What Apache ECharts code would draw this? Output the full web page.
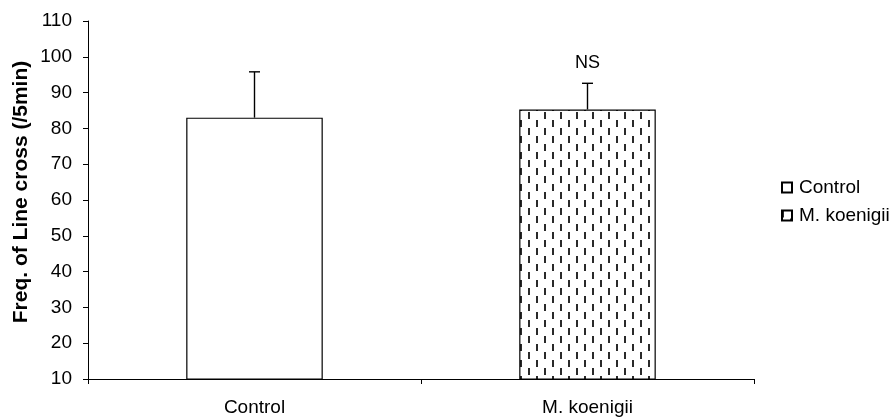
<!DOCTYPE html>
<html>
<head>
<meta charset="utf-8">
<script src="https://cdn.jsdelivr.net/npm/echarts@6/dist/echarts.min.js"></script>
<style>
html,body{margin:0;padding:0;background:#fff;}
#chart{width:894px;height:420px;}
</style>
</head>
<body>
<div id="chart"></div>
<script>
// Data
var categories = ['Control', 'M. koenigii'];
var seriesNames = ['Control', 'M. koenigii'];
var means = [83, 85.3];
var errors = [12.8, 7.3];
var sigLabels = ['', 'NS'];
var yTicks = {min: 10, max: 110, interval: 10};
var yTitle = 'Freq. of Line cross (/5min)';

// Pattern for M. koenigii bar (vertical dashed lines, staggered)
var pc = document.createElement('canvas');
pc.width = 16; pc.height = 16;
var pctx = pc.getContext('2d');
pctx.fillStyle = '#ffffff';
pctx.fillRect(0, 0, 16, 16);
pctx.fillStyle = '#2a2a2a';
pctx.fillRect(0, 0, 2, 7);
pctx.fillRect(8, 8, 2, 7);

var font = 'Liberation Sans, Arial, sans-serif';

function seriesData(i) {
  return means.map(function (v, j) { return j === i ? v : '-'; });
}

var errData = means.map(function (v, i) { return [i, v, errors[i]]; });

var chart = echarts.init(document.getElementById('chart'));
chart.setOption({
  animation: false,
  backgroundColor: '#ffffff',
  textStyle: {fontFamily: font},
  grid: {left: 88, right: 140, top: 21, bottom: 41, containLabel: false},
  legend: {
    data: seriesNames,
    orient: 'vertical',
    left: 776,
    top: 173,
    itemWidth: 10,
    itemHeight: 10,
    itemGap: 9,
    icon: 'rect',
    textStyle: {fontSize: 19, color: '#000', fontFamily: font, padding: [0, 0, 0, 2]}
  },
  graphic: [{
    type: 'text',
    x: 21, y: 192,
    rotation: Math.PI / 2,
    style: {
      text: yTitle,
      font: 'bold 21px ' + font,
      fill: '#000',
      align: 'center',
      verticalAlign: 'middle'
    }
  }],
  xAxis: {
    type: 'category',
    data: categories,
    boundaryGap: true,
    axisLine: {lineStyle: {color: '#000', width: 1}},
    axisTick: {show: true, length: 5, lineStyle: {color: '#000'}},
    axisLabel: {color: '#000', fontSize: 19, margin: 19, fontFamily: font},
    splitLine: {show: false}
  },
  yAxis: {
    type: 'value',
    min: yTicks.min,
    max: yTicks.max,
    interval: yTicks.interval,
    axisLine: {show: true, lineStyle: {color: '#000', width: 1}},
    axisTick: {show: true, length: 5, lineStyle: {color: '#000'}},
    axisLabel: {color: '#000', fontSize: 19, margin: 16, fontFamily: font},
    splitLine: {show: false}
  },
  series: [
    {
      name: seriesNames[0],
      type: 'bar',
      stack: 'a',
      barCategoryGap: '59%',
      data: seriesData(0),
      itemStyle: {color: '#ffffff', borderColor: '#000', borderWidth: 1.2}
    },
    {
      name: seriesNames[1],
      type: 'bar',
      stack: 'a',
      barCategoryGap: '59%',
      data: seriesData(1),
      itemStyle: {color: {image: pc, repeat: 'repeat'}, borderColor: '#000', borderWidth: 1.2}
    },
    {
      name: 'err',
      type: 'custom',
      data: errData,
      z: 10,
      renderItem: function (params, api) {
        var x = api.value(0), m = api.value(1), e = api.value(2);
        var lab = sigLabels[params.dataIndex];
        var p0 = api.coord([x, m]);
        var p1 = api.coord([x, m + e]);
        var children = [
          {type: 'line', shape: {x1: p0[0], y1: p0[1], x2: p1[0], y2: p1[1]}, style: {stroke: '#000', lineWidth: 1.4}},
          {type: 'line', shape: {x1: p1[0] - 5.5, y1: p1[1], x2: p1[0] + 5.5, y2: p1[1]}, style: {stroke: '#000', lineWidth: 1.4}}
        ];
        if (lab) {
          children.push({type: 'text', x: p1[0], y: p1[1] - 20, style: {text: lab, font: '18px ' + font, fill: '#000', align: 'center', verticalAlign: 'middle'}});
        }
        return {type: 'group', children: children};
      }
    }
  ]
});
</script>
</body>
</html>
